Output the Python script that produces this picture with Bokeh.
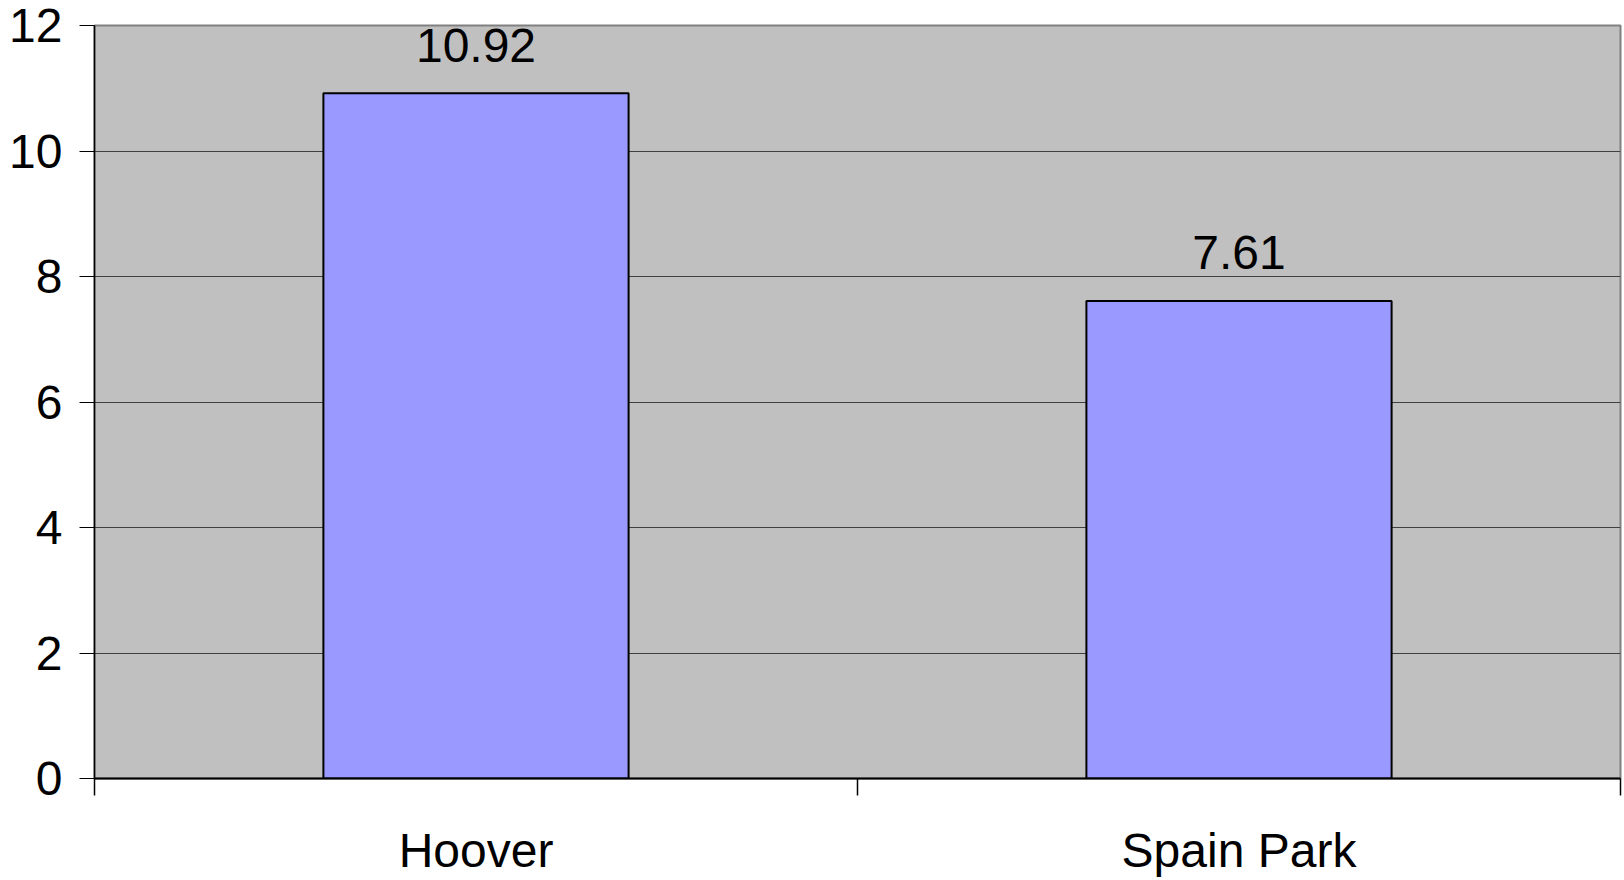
from bokeh.plotting import figure
from bokeh.models import Range1d, FixedTicker, CustomJSTickFormatter, ColumnDataSource
from bokeh.core.properties import value
from bokeh.embed import file_html
from bokeh.resources import INLINE

categories = ["Hoover", "Spain Park"]
values = [10.92, 7.61]
value_labels = ["10.92", "7.61"]
y_ticks = [0, 2, 4, 6, 8, 10, 12]

n = len(categories)
centers = [i + 0.5 for i in range(n)]
bounds = [i for i in range(n + 1)]

FONT = "Liberation Sans"

p = figure(width=1624, height=880, output_backend="svg", toolbar_location=None,
           x_range=Range1d(0, n), y_range=Range1d(0, 12),
           min_border_left=94, min_border_right=4, min_border_top=25, min_border_bottom=102)

p.background_fill_color = "#C0C0C0"
p.border_fill_color = "white"
p.outline_line_color = "#808080"
p.outline_line_width = 2

src = ColumnDataSource(dict(x=centers, top=values, label=value_labels))
p.vbar(x="x", top="top", width=0.4, bottom=0, source=src,
       fill_color="#9999FF", line_color="black", line_width=2)

p.text(x="x", y="top", text="label", source=src, y_offset=-48,
       text_font=value(FONT), text_font_size="48px", text_align="center",
       text_baseline="alphabetic", text_color="black")

# y axis
p.yaxis.ticker = FixedTicker(ticks=y_ticks)
p.yaxis.axis_line_color = "black"
p.yaxis.axis_line_width = 1.5
p.yaxis.major_tick_line_color = "black"
p.yaxis.major_tick_out = 15
p.yaxis.major_tick_in = 0
p.yaxis.minor_tick_line_color = None
p.yaxis.major_label_text_font = FONT
p.yaxis.major_label_text_font_size = "48px"
p.yaxis.major_label_text_color = "black"
p.yaxis.major_label_standoff = 17

# x axis
p.xaxis.ticker = FixedTicker(ticks=centers, minor_ticks=bounds)
p.xaxis.formatter = CustomJSTickFormatter(args=dict(cats=categories),
                                          code="return cats[Math.floor(tick)];")
p.xaxis.axis_line_color = "black"
p.xaxis.axis_line_width = 2
p.xaxis.major_tick_line_color = None
p.xaxis.major_tick_out = 17
p.xaxis.minor_tick_line_color = "black"
p.xaxis.minor_tick_line_width = 1.5
p.xaxis.minor_tick_out = 17
p.xaxis.minor_tick_in = 0
p.xaxis.major_label_text_font = FONT
p.xaxis.major_label_text_font_size = "48px"
p.xaxis.major_label_text_color = "black"
p.xaxis.major_label_standoff = 28

p.xgrid.grid_line_color = None
p.ygrid.ticker = FixedTicker(ticks=y_ticks)
p.ygrid.grid_line_color = "#404040"
p.ygrid.grid_line_width = 1

open("out.html", "w").write(file_html(p, INLINE))
